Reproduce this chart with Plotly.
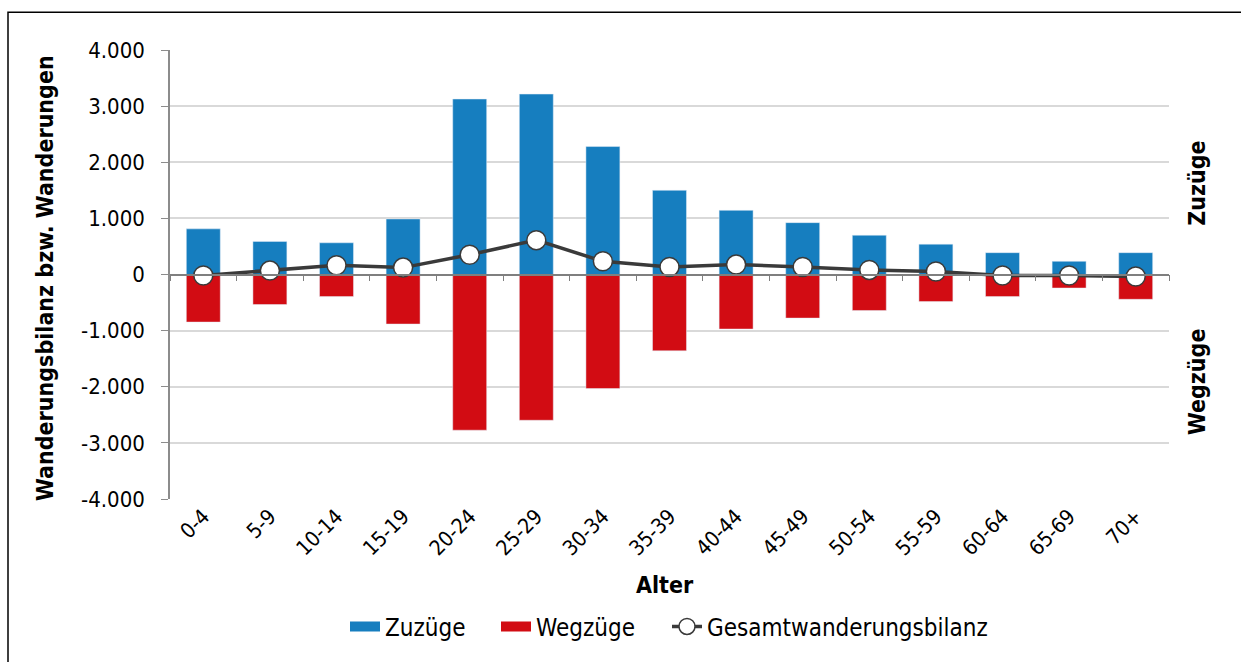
import plotly.graph_objects as go

categories = ["0-4", "5-9", "10-14", "15-19", "20-24", "25-29", "30-34", "35-39",
              "40-44", "45-49", "50-54", "55-59", "60-64", "65-69", "70+"]
zuzuege = [813, 590, 565, 990, 3127, 3215, 2280, 1500, 1143, 924, 700, 541, 389, 235, 389]
wegzuege = [-848, -535, -394, -883, -2774, -2597, -2032, -1360, -972, -777, -641, -483, -394, -241, -442]
bilanz = [-18, 70, 164, 123, 353, 612, 235, 135, 177, 135, 82, 53, -18, -18, -35]
y_tickvals = [-4000, -3000, -2000, -1000, 0, 1000, 2000, 3000, 4000]
y_ticktext = ["-4.000", "-3.000", "-2.000", "-1.000", "0", "1.000", "2.000", "3.000", "4.000"]

FONT = "DejaVu Sans Condensed, DejaVu Sans, sans-serif"
BLUE = "#167EBF"
RED = "#D20C13"
LINE = "#3A3A3A"

W, H = 1241, 662
L, R, T, B = 170, 72, 50, 159
pw = W - L - R
ph = H - T - B

def px(x):
    return (x - L) / pw

def py(y):
    return (H - B - y) / ph

fig = go.Figure()
fig.add_trace(go.Bar(x=categories, y=zuzuege, name="Zuzüge", marker=dict(color=BLUE),
                     showlegend=False))
fig.add_trace(go.Bar(x=categories, y=wegzuege, name="Wegzüge", marker=dict(color=RED),
                     showlegend=False))
fig.add_trace(go.Scatter(x=categories, y=bilanz, name="Gesamtwanderungsbilanz", xaxis="x2",
                         mode="lines+markers", cliponaxis=False, legend="legend3",
                         line=dict(color=LINE, width=3.5),
                         marker=dict(symbol="circle", size=19, color="white",
                                     line=dict(color=LINE, width=1.5))))
# legend-only swatches for the bar series (wide rectangles like the original legend)
fig.add_trace(go.Scatter(x=[None], y=[None], name="Zuzüge", mode="lines", legend="legend",
                         line=dict(color=BLUE, width=14), hoverinfo="skip"))
fig.add_trace(go.Scatter(x=[None], y=[None], name="Wegzüge", mode="lines", legend="legend2",
                         line=dict(color=RED, width=14), hoverinfo="skip"))

leg_common = dict(orientation="h", xanchor="left", y=py(632), yanchor="middle",
                  font=dict(size=24), itemwidth=30, bgcolor="rgba(0,0,0,0)")

fig.update_layout(
    width=W, height=H,
    margin=dict(l=L, r=R, t=T, b=B),
    paper_bgcolor="white", plot_bgcolor="white",
    font=dict(family=FONT, size=22, color="black"),
    barmode="relative", bargap=0.49,
    showlegend=True,
    legend=dict(x=px(385 - 40), **leg_common),
    legend2=dict(x=px(536 - 40), **leg_common),
    legend3=dict(x=px(707 - 40), **leg_common),
    xaxis=dict(type="category", categoryorder="array", categoryarray=categories,
               range=[-0.5, len(categories) - 0.5],
               showline=False, showgrid=False, ticks="", tickangle=-45,
               tickfont=dict(size=21), anchor="y"),
    xaxis2=dict(type="category", categoryorder="array", categoryarray=categories,
                range=[-0.5, len(categories) - 0.5], overlaying="x", anchor="free",
                position=0.5, side="bottom", showline=True, linecolor="#7F7F7F", linewidth=1.5,
                ticks="outside", tickson="boundaries", ticklen=6, tickwidth=1.2, tickcolor="#7F7F7F",
                showticklabels=False, showgrid=False),
    yaxis=dict(range=[-4000, 4000], tickvals=y_tickvals, ticktext=y_ticktext,
               showline=True, linecolor="#8C8C8C", linewidth=1.5,
               ticks="outside", ticklen=7, tickcolor="#8C8C8C", tickwidth=1.2,
               showgrid=True, gridcolor="#D9D9D9", gridwidth=1.5, zeroline=False,
               tickfont=dict(size=22), ticklabelstandoff=12),
)

fig.add_annotation(text="<b>Wanderungsbilanz bzw. Wanderungen</b>", xref="paper", yref="paper",
                   x=px(45), y=py(280), textangle=-90, showarrow=False,
                   font=dict(size=23), xanchor="center", yanchor="middle")
fig.add_annotation(text="<b>Alter</b>", xref="paper", yref="paper",
                   x=px(665), y=py(590), showarrow=False, font=dict(size=23),
                   xanchor="center", yanchor="middle")
fig.add_annotation(text="<b>Zuzüge</b>", xref="paper", yref="paper",
                   x=px(1197), y=py(185), textangle=-90, showarrow=False, font=dict(size=23),
                   xanchor="center", yanchor="middle")
fig.add_annotation(text="<b>Wegzüge</b>", xref="paper", yref="paper",
                   x=px(1197), y=py(385), textangle=-90, showarrow=False, font=dict(size=23),
                   xanchor="center", yanchor="middle")

fig.add_shape(type="rect", xref="paper", yref="paper",
              x0=px(8), x1=px(1260), y0=py(680), y1=py(12),
              line=dict(color="black", width=1.5), fillcolor="rgba(0,0,0,0)", layer="below")

fig.write_html("out.html", config={"displayModeBar": False},
               post_script="document.body.style.margin='0';")
